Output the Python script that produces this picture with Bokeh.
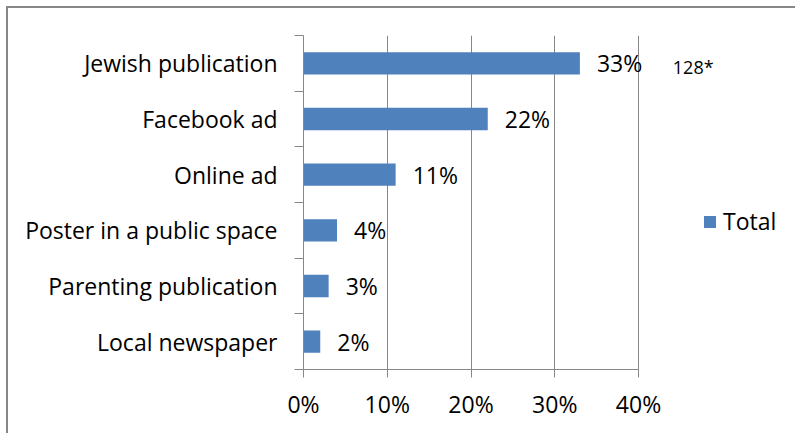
from bokeh.plotting import figure
from bokeh.models import (Range1d, FixedTicker, NumeralTickFormatter, ColumnDataSource,
                          LabelSet, Legend, LegendItem)
from bokeh.core.properties import value
from bokeh.embed import file_html
from bokeh.resources import INLINE

# ---- data ----
categories = ["Jewish publication", "Facebook ad", "Online ad",
              "Poster in a public space", "Parenting publication", "Local newspaper"]
values = [0.33, 0.22, 0.11, 0.04, 0.03, 0.02]
value_labels = ["33%", "22%", "11%", "4%", "3%", "2%"]
x_ticks = [0.0, 0.1, 0.2, 0.3, 0.4]
series_name = "Total"
note_text = "128*"
note_category = "Jewish publication"
note_x = 0.441

FONT = "Open Sans"
BAR = "#4F81BD"
GRAY = "#878787"

n = len(categories)
centers = [n - i - 0.5 for i in range(n)]
bounds = list(range(n + 1))

src = ColumnDataSource(dict(y=centers, val=values, lab=value_labels))
note_src = ColumnDataSource(dict(x=[note_x], y=[centers[categories.index(note_category)]],
                                 t=[note_text]))

# layout: canvas 789x427, axis area 335 px wide for 0..40%, frame runs on to the right
W, H = 789, 427
LEFT, TOP, BOTTOM, RIGHT = 295, 27, 66, 4
AXIS_PX = 335
x_end = x_ticks[-1] * (W - LEFT - RIGHT) / AXIS_PX

p = figure(width=W, height=H,
           y_range=Range1d(0, n), x_range=Range1d(0, x_end),
           output_backend="svg", toolbar_location=None, tools="")
p.min_border_left = LEFT
p.min_border_right = RIGHT
p.min_border_top = TOP
p.min_border_bottom = BOTTOM
p.outline_line_color = None
p.background_fill_color = "white"
p.border_fill_color = "white"
p.styles = {"border-top": "2px solid " + GRAY, "border-left": "2px solid " + GRAY,
            "margin-left": "6px", "margin-top": "6px"}

bars = p.hbar(y="y", left=0, right="val", height=0.4, source=src,
              fill_color=BAR, line_color=None)

ya = p.yaxis[0]
ya.ticker = FixedTicker(ticks=centers, minor_ticks=bounds)
ya.major_label_overrides = {c: lab for c, lab in zip(centers, categories)}
ya.major_tick_line_color = None
ya.major_tick_out = 0
ya.major_tick_in = 0
ya.minor_tick_out = 9
ya.minor_tick_in = 0
ya.minor_tick_line_color = GRAY
ya.axis_line_color = GRAY
ya.major_label_text_font = FONT
ya.major_label_text_font_size = "23px"
ya.major_label_text_color = "black"
ya.major_label_standoff = 17

xa = p.xaxis[0]
xa.ticker = FixedTicker(ticks=x_ticks)
xa.bounds = (x_ticks[0], x_ticks[-1])
xa.formatter = NumeralTickFormatter(format="0%")
xa.major_tick_out = 8
xa.major_tick_in = 0
xa.minor_tick_line_color = None
xa.axis_line_color = GRAY
xa.major_tick_line_color = GRAY
xa.major_label_text_font = FONT
xa.major_label_text_font_size = "23px"
xa.major_label_text_color = "black"
xa.major_label_standoff = 10

p.xgrid.ticker = FixedTicker(ticks=x_ticks)
p.xgrid.grid_line_color = GRAY
p.ygrid.grid_line_color = None

labels = LabelSet(x="val", y="y", text="lab", source=src, x_offset=17,
                  text_baseline="middle", text_align="left",
                  text_font=value(FONT), text_font_size=value("23px"), text_color="black")
p.add_layout(labels)

note = LabelSet(x="x", y="y", text="t", source=note_src, y_offset=-4,
                text_baseline="middle", text_align="left",
                text_font=value(FONT), text_font_size=value("18px"), text_color="black")
p.add_layout(note)

legend = Legend(items=[LegendItem(label=series_name, renderers=[bars])],
                location=(399, 132), orientation="vertical",
                glyph_width=15, glyph_height=15, label_standoff=6,
                label_text_font=FONT, label_text_font_size="23px",
                label_text_color="black",
                padding=0, margin=0, spacing=0,
                border_line_color=None, background_fill_alpha=0)
p.add_layout(legend, "center")

open("out.html", "w").write(file_html(p, INLINE))
